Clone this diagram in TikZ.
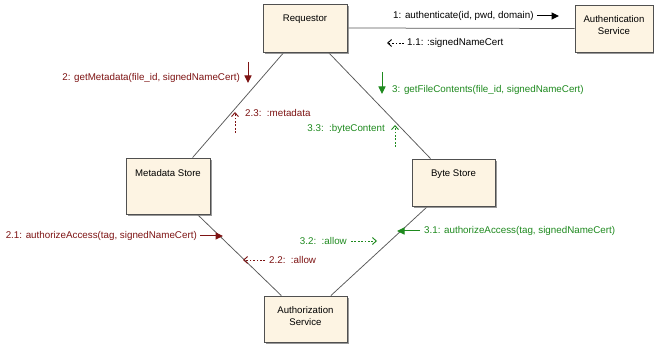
\documentclass[tikz,border=0pt]{standalone}
\usepackage{fontspec}
\setmainfont{Liberation Sans}
\usetikzlibrary{arrows.meta,shadows,backgrounds}

\definecolor{boxfill}{HTML}{FDF4E3}
\definecolor{boxline}{HTML}{505050}
\definecolor{msgred}{HTML}{7E1414}
\definecolor{msggreen}{HTML}{1E8A1E}

\tikzset{
  obj/.style={draw=boxline, line width=0.8pt, fill=boxfill, rectangle,
    drop shadow={shadow xshift=1.8pt, shadow yshift=-1.8pt, fill=black!50, opacity=0.8}},
  objtext/.style={anchor=north, align=center, inner sep=0pt,
    font=\fontsize{9.6}{12}\selectfont},
  link/.style={draw=black!65, line width=0.75pt},
  msg/.style={inner sep=0pt, font=\fontsize{9.8}{11}\selectfont},
  callarrow/.style={line width=1pt, -{Triangle[length=7.5pt,width=7pt]}},
  retarrow/.style={line width=0.9pt, dash pattern=on 1.7pt off 1.7pt,
    -{Straight Barb[length=4pt,width=7pt]}},
}

\begin{document}
\begin{tikzpicture}[x=1pt,y=-1pt]
  % objects
  \node[obj, minimum width=84pt, minimum height=48pt] (req) at (305,28) {};
  \node[obj, minimum width=78pt, minimum height=47pt] (authn) at (614,28.5) {};
  \node[obj, minimum width=84pt, minimum height=56pt] (meta) at (168,186) {};
  \node[obj, minimum width=83pt, minimum height=47pt] (byte) at (453.5,182.5) {};
  \node[obj, minimum width=83pt, minimum height=46pt] (authz) at (305.5,319) {};

  \node[objtext] (reqT) at ([yshift=-11pt]req.north) {Requestor};
  \node[objtext] (authnT) at ([yshift=-11pt]authn.north) {Authentication\\Service};
  \node[objtext] (metaT) at ([yshift=-12pt]meta.north) {Metadata Store};
  \node[objtext] (byteT) at ([yshift=-11pt]byte.north) {Byte Store};
  \node[objtext] (authzT) at ([yshift=-11pt]authz.north) {Authorization\\Service};

  % links between objects, kept behind the boxes
  \begin{scope}[on background layer]
    \fill[white] (0,0) rectangle (654,347);
    \draw[link] (req.east) -- (authn.west);
    \draw[link] (req) -- (meta);
    \draw[link] (req) -- (byte);
    \draw[link] (meta) -- (authz);
    \draw[link] (byte) -- (authz);
  \end{scope}

  % authentication messages
  \node[msg, anchor=west] (m1) at (393,16) {1: authenticate(id, pwd, domain)};
  \draw[callarrow] ([xshift=3pt]m1.east) -- (559,16);
  \node[msg, anchor=west] (m11) at (407,43) {1.1: :signedNameCert};
  \draw[retarrow] ([xshift=-3pt]m11.west) -- (387,43);

  % metadata messages
  \node[msg, msgred, anchor=east] (m2) at (240,78) {2: getMetadata(file\_id, signedNameCert)};
  \coordinate (m2a) at (248,62);
  \draw[callarrow, msgred] (m2a) -- ++(0,21);
  \node[msg, msgred, anchor=west] (m23) at (245,113) {2.3:\ \ :metadata};
  \coordinate (m23a) at (235,133);
  \draw[retarrow, msgred] (m23a) -- ++(0,-21);

  % byte content messages
  \node[msg, msggreen, anchor=west] (m3) at (392,90) {3: getFileContents(file\_id, signedNameCert)};
  \coordinate (m3a) at (382,72);
  \draw[callarrow, msggreen] (m3a) -- ++(0,22);
  \node[msg, msggreen, anchor=east] (m33) at (385,129) {3.3:\ \ :byteContent};
  \coordinate (m33a) at (395,147);
  \draw[retarrow, msggreen] (m33a) -- ++(0,-22);

  % authorization messages
  \node[msg, msgred, anchor=east] (m21) at (197,236) {2.1: authorizeAccess(tag, signedNameCert)};
  \draw[callarrow, msgred] ([xshift=3pt]m21.east) -- (223,236);
  \node[msg, msgred, anchor=west] (m22) at (269,260) {2.2:\ \ :allow};
  \draw[retarrow, msgred] ([xshift=-4pt]m22.west) -- (243,260);
  \node[msg, msggreen, anchor=east] (m32) at (347,241) {3.2:\ \ :allow};
  \draw[retarrow, msggreen] ([xshift=4pt]m32.east) -- (377,241);
  \node[msg, msggreen, anchor=west] (m31) at (424,231) {3.1: authorizeAccess(tag, signedNameCert)};
  \draw[callarrow, msggreen] ([xshift=-4pt]m31.west) -- (397,231);

  \useasboundingbox (0,0) rectangle (654,347);
\end{tikzpicture}
\end{document}
